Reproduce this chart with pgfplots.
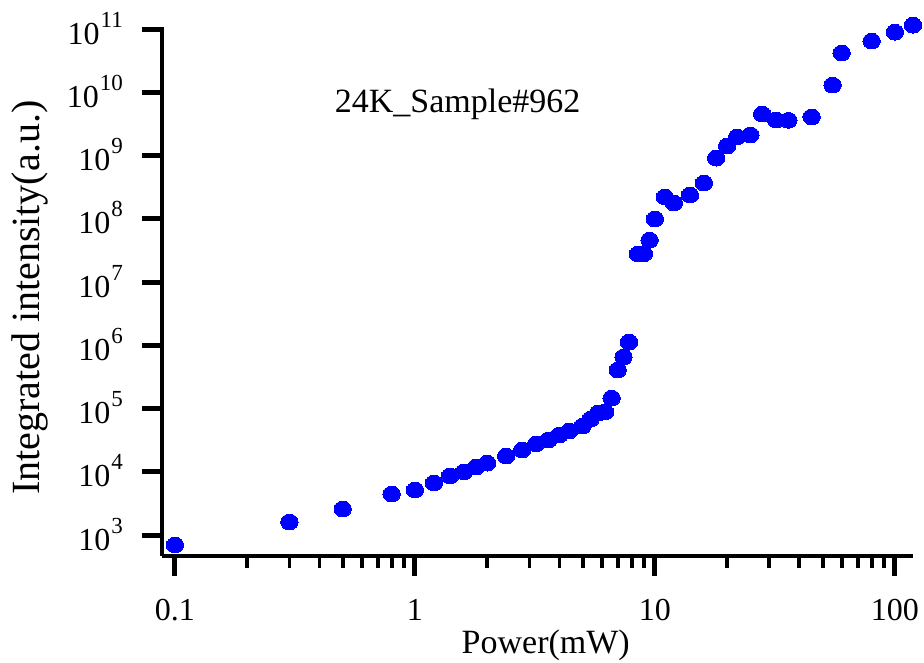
\documentclass[border=0pt]{standalone}
\usepackage{fontspec}
\setmainfont{Liberation Serif}
\usepackage{pgfplots}
\pgfplotsset{compat=1.18}
\newcommand{\ee}[1]{10\hspace{1pt}\raisebox{17pt}{\fontsize{23}{23}\selectfont #1}}
\definecolor{dotblue}{RGB}{0,0,255}
\begin{document}
\begin{tikzpicture}
\useasboundingbox (0,0) rectangle (924pt,662pt);
\begin{axis}[
  at={(162pt,106pt)}, anchor=south west,
  scale only axis, width=751pt, height=529pt,
  xmode=log, ymode=log,
  xmin=0.0883, xmax=119, ymin=466, ymax=1.077e11,
  axis x line=bottom, axis y line=left,
  axis line style={-, line width=4.5pt, black},
  tick align=outside,
  major tick length=20pt, minor tick length=12pt,
  major tick style={line width=5pt, black},
  minor tick style={line width=3.8pt, black},
  xtick={0.1,1,10,100}, xticklabels={0.1,1,10,100},
  minor xtick={0.2,0.3,0.4,0.5,0.6,0.7,0.8,0.9,2,3,4,5,6,7,8,9,20,30,40,50,60,70,80,90},
  ytick={1e3,1e4,1e5,1e6,1e7,1e8,1e9,1e10,1e11},
  yticklabels={\ee{3},\ee{4},\ee{5},\ee{6},\ee{7},\ee{8},\ee{9},\ee{10},\ee{11}},
  yminorticks=false,
  ticklabel style={font=\fontsize{32}{36}\selectfont, inner sep=0pt},
  xticklabel style={anchor=base, yshift=-44pt},
  yticklabel style={anchor=base east, xshift=-19pt, yshift=-15pt},
  xlabel={Power(mW)},
  ylabel={Integrated intensity(a.u.)},
  xlabel style={font=\fontsize{34}{40}\selectfont, at={(axis description cs:0.511,-0.1834)}, anchor=base, inner sep=0pt},
  ylabel style={font=\fontsize{40}{46}\selectfont, at={(axis description cs:-0.1625,0.488)}, anchor=base, inner sep=0pt},
  clip=false,
]
\addplot[only marks, mark=*, mark size=7.9pt, mark options={xscale=1.1, fill=dotblue, draw=dotblue, line width=0pt}, color=dotblue]
coordinates {
(0.1,695) (0.3,1606) (0.5,2580) (0.8,4450) (1,5140) (1.2,6640) (1.4,8570)
(1.6,9910) (1.8,11900) (2,13700) (2.4,17700) (2.8,22100) (3.2,27500)
(3.6,31800) (4,38100) (4.4,44100) (5,52900) (5.4,68200) (5.8,84900)
(6.2,88000) (6.6,146000) (7,406000) (7.4,652000) (7.8,1.12e6)
(8.5,2.77e7) (9,2.8e7) (9.5,4.6e7) (10,9.9e7) (11,2.21e8) (12,1.77e8)
(14,2.37e8) (16,3.67e8) (18,9.1e8) (20,1.41e9) (22,1.96e9) (25,2.11e9)
(28,4.53e9) (32,3.64e9) (36,3.6e9) (45,4.07e9) (55,1.30e10) (60,4.17e10)
(80,6.45e10) (100,8.9e10) (119,1.15e11)
};
\node[font=\fontsize{34}{40}\selectfont, anchor=base west, inner sep=0pt] at (rel axis cs:0.2300,0.8393) {24K\_Sample\#962};
\end{axis}
\end{tikzpicture}
\end{document}
